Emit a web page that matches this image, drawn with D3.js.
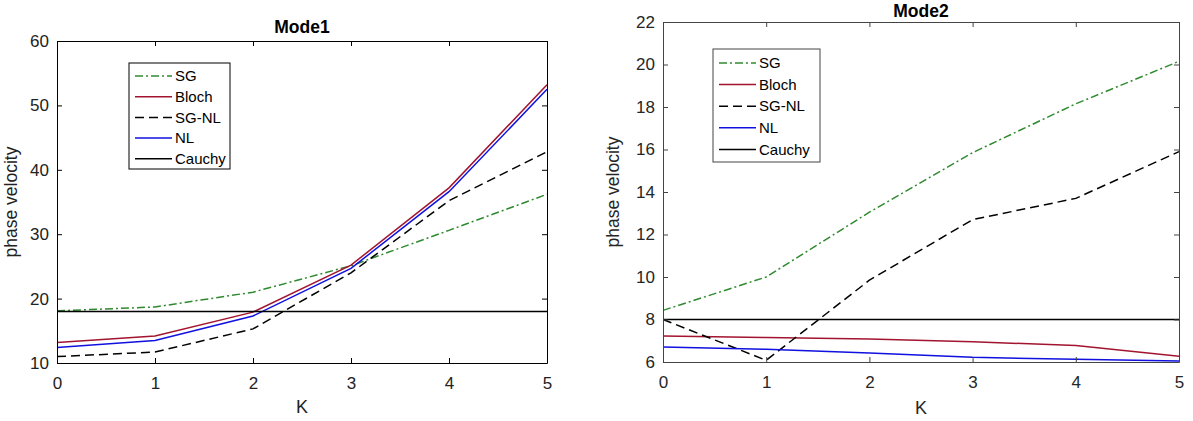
<!DOCTYPE html>
<html>
<head>
<meta charset="utf-8">
<script src="https://cdn.jsdelivr.net/npm/d3@7"></script>
<style>
  body { margin: 0; background: #fff; }
  svg { display: block; font-family: "Liberation Sans", Arial, sans-serif; }
</style>
</head>
<body>
<div id="chart"></div>
<script>
// wave numbers
const kValues = [0, 1, 2, 3, 4, 5];
const seriesNames = ["SG", "Bloch", "SG-NL", "NL", "Cauchy"];

// Mode 1 phase velocities
const mode1SG     = [18.1, 18.7, 21.0, 25.1, 30.6, 36.2];
const mode1Bloch  = [13.2, 14.2, 17.9, 25.2, 37.2, 53.2];
const mode1SGNL   = [11.0, 11.7, 15.3, 24.0, 35.2, 42.8];
const mode1NL     = [12.4, 13.5, 17.3, 24.7, 36.6, 52.5];
const mode1Cauchy = [18.0, 18.0, 18.0, 18.0, 18.0, 18.0];

// Mode 2 phase velocities
const mode2SG     = [8.43, 10.0, 13.05, 15.85, 18.15, 20.15];
const mode2Bloch  = [7.22, 7.15, 7.08, 6.95, 6.78, 6.27];
const mode2SGNL   = [8.0, 6.08, 9.85, 12.7, 13.7, 15.9];
const mode2NL     = [6.71, 6.6, 6.42, 6.22, 6.13, 6.05];
const mode2Cauchy = [8.0, 8.0, 8.0, 8.0, 8.0, 8.0];

const mode1Ticks = [10, 20, 30, 40, 50, 60];
const mode2Ticks = [6, 8, 10, 12, 14, 16, 18, 20, 22];

// line styles, keyed by series name
const styles = {
  "SG":     { color: "#2f8a2f", dash: "8,3,2,3" },
  "Bloch":  { color: "#a2142f", dash: null },
  "SG-NL":  { color: "#000000", dash: "9,5" },
  "NL":     { color: "#1010e0", dash: null },
  "Cauchy": { color: "#000000", dash: null }
};

const svg = d3.select("#chart").append("svg")
    .attr("width", 1193)
    .attr("height", 421);

function drawPanel(cfg) {
  const { left, top, width, height } = cfg;
  const g = svg.append("g").attr("transform", `translate(${left},${top})`);

  const x = d3.scaleLinear().domain([0, 5]).range([0, width]);
  const y = d3.scaleLinear().domain(cfg.yDomain).range([height, 0]);

  // lines
  const line = d3.line()
      .x((d, i) => x(kValues[i]))
      .y(d => y(d));

  cfg.series.forEach((vals, i) => {
    const st = styles[seriesNames[i]];
    g.append("path")
        .datum(vals)
        .attr("fill", "none")
        .attr("stroke", st.color)
        .attr("stroke-width", 1.5)
        .attr("stroke-dasharray", st.dash)
        .attr("d", line);
  });

  // axes (MATLAB style box, ticks pointing inward)
  const xAxis = g.append("g")
      .attr("transform", `translate(0,${height})`)
      .call(d3.axisBottom(x).tickValues(kValues).tickFormat(d3.format("d"))
        .tickSizeInner(-5).tickSizeOuter(0).tickPadding(14));
  const yAxis = g.append("g")
      .call(d3.axisLeft(y).tickValues(cfg.yTicks).tickFormat(d3.format("d"))
        .tickSizeInner(-5).tickSizeOuter(0).tickPadding(8));
  const xTop = g.append("g")
      .call(d3.axisTop(x).tickValues(kValues).tickSizeInner(-5).tickSizeOuter(0).tickFormat(""));
  const yRight = g.append("g")
      .attr("transform", `translate(${width},0)`)
      .call(d3.axisRight(y).tickValues(cfg.yTicks).tickSizeInner(-5).tickSizeOuter(0).tickFormat(""));

  [xAxis, yAxis, xTop, yRight].forEach(a => {
    a.select(".domain").attr("stroke", cfg.axisColor).attr("stroke-width", 1);
    a.selectAll(".tick line").attr("stroke", cfg.axisColor);
    a.selectAll("text")
        .attr("fill", cfg.textColor)
        .style("font-size", "17px");
  });

  // title and labels
  g.append("text")
      .attr("x", width / 2)
      .attr("y", cfg.titleY)
      .attr("text-anchor", "middle")
      .style("font-size", "17.5px")
      .style("font-weight", "bold")
      .attr("fill", "#000")
      .text(cfg.title);

  g.append("text")
      .attr("x", width / 2)
      .attr("y", cfg.xLabelY)
      .attr("text-anchor", "middle")
      .style("font-size", "18px")
      .attr("fill", cfg.textColor)
      .text("K");

  g.append("text")
      .attr("transform", `translate(${cfg.yLabelX},${height / 2}) rotate(-90)`)
      .attr("text-anchor", "middle")
      .style("font-size", "17.5px")
      .attr("fill", cfg.textColor)
      .text("phase velocity");

  // legend
  const lg = g.append("g").attr("transform", `translate(${cfg.legend.x},${cfg.legend.y})`);
  lg.append("rect")
      .attr("width", cfg.legend.w)
      .attr("height", cfg.legend.h)
      .attr("fill", "#fff")
      .attr("stroke", cfg.axisColor)
      .attr("stroke-width", 1);

  seriesNames.forEach((name, i) => {
    const st = styles[name];
    const ly = cfg.legend.first + i * cfg.legend.step;
    lg.append("line")
        .attr("x1", 6).attr("x2", 43)
        .attr("y1", ly).attr("y2", ly)
        .attr("stroke", st.color)
        .attr("stroke-width", 1.5)
        .attr("stroke-dasharray", st.dash);
    lg.append("text")
        .attr("x", 46)
        .attr("y", ly)
        .attr("dy", "0.35em")
        .style("font-size", "15px")
        .attr("fill", "#000")
        .text(name);
  });
}

drawPanel({
  left: 57, top: 41, width: 490, height: 322,
  yDomain: [10, 60], yTicks: mode1Ticks,
  series: [mode1SG, mode1Bloch, mode1SGNL, mode1NL, mode1Cauchy],
  title: "Mode1", titleY: -8, xLabelY: 372, yLabelX: -40,
  axisColor: "#000", textColor: "#222",
  legend: { x: 72, y: 22, w: 101, h: 106, first: 13, step: 20.7 }
});

drawPanel({
  left: 663, top: 22, width: 516, height: 340,
  yDomain: [6, 22], yTicks: mode2Ticks,
  series: [mode2SG, mode2Bloch, mode2SGNL, mode2NL, mode2Cauchy],
  title: "Mode2", titleY: -5, xLabelY: 392, yLabelX: -44,
  axisColor: "#444", textColor: "#262626",
  legend: { x: 50, y: 27, w: 107, h: 113, first: 14, step: 21.6 }
});
</script>
</body>
</html>
